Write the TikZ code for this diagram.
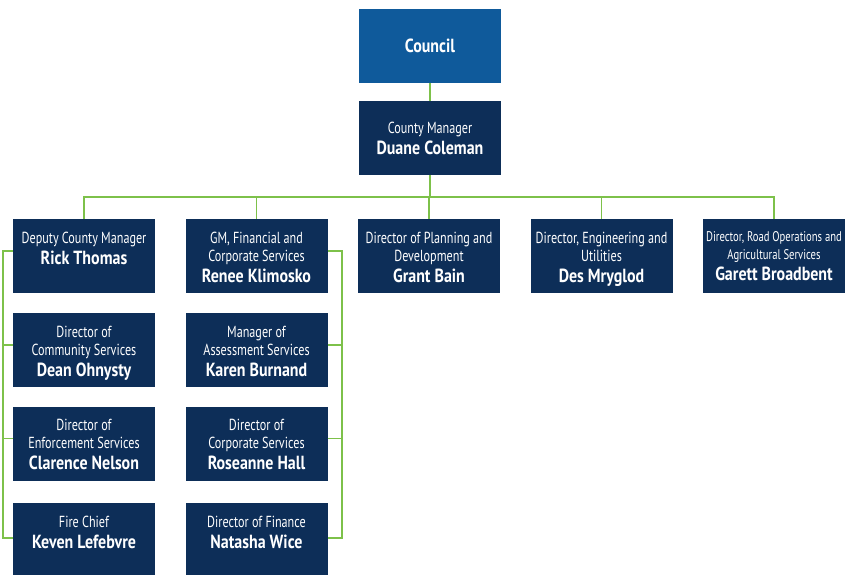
\documentclass[tikz,border=0pt]{standalone}
\usepackage{fontspec}
\setmainfont[FakeStretch=0.76,BoldFeatures={FakeStretch=0.84}]{PT Sans}
\usetikzlibrary{positioning}

\definecolor{navy}{HTML}{0D2E58}
\definecolor{councilblue}{HTML}{0F5A9B}
\definecolor{linegreen}{HTML}{7DC14A}

\newcommand{\who}[1]{{\fontsize{19}{21}\selectfont\bfseries #1\par}}
% title lines on top, name below, block fixed to the box top
\newcommand{\role}[2]{\begin{minipage}[t][74pt][t]{142pt}\centering
   \vspace*{13pt}#1\par\who{#2}\end{minipage}}
\newcommand{\headrole}[2]{\begin{minipage}{142pt}\centering
   #1\par\who{#2}\end{minipage}}

\begin{document}
\begin{tikzpicture}[x=1pt,y=-1pt,on grid,
   unit/.style={fill=navy,text=white,minimum width=142pt,minimum height=74pt,
     inner sep=0pt,font=\fontsize{16}{18}\selectfont},
   link/.style={draw=linegreen,line width=1.6pt}]
   \useasboundingbox (0,0) rectangle (856,574);
   \clip (0,0) rectangle (856,574);
   \node[unit,fill=councilblue] (council) at (430,45.5) {\fontsize{19}{21}\selectfont\bfseries Council};
   \node[unit] (manager) [below=92.5pt of council] {\headrole{County Manager}{Duane Coleman}};
   \node[unit] (planning) [below=118pt of manager,xshift=-1pt] {\role{Director of Planning and\\Development}{Grant Bain}};
   \node[unit] (gm) [left=172.5pt of planning] {\role{GM, Financial and\\Corporate Services}{Renee Klimosko}};
   \node[unit] (deputy) [left=172.5pt of gm] {\role{Deputy County Manager}{Rick Thomas}};
   \node[unit] (eng) [right=172.5pt of planning] {\role{Director, Engineering and\\Utilities}{Des Mryglod}};
   \node[unit] (road) [right=172.5pt of eng] {\role{\fontsize{14}{18}\selectfont Director, Road Operations and\\Agricultural Services}{Garett Broadbent}};
   % deputy's column
   \node[unit] (community) [below=94pt of deputy] {\role{Director of\\Community Services}{Dean Ohnysty}};
   \node[unit] (enforcement) [below=93.5pt of community] {\role{Director of\\Enforcement Services}{Clarence Nelson}};
   \node[unit] (fire) [below=96.5pt of enforcement] {\role{Fire Chief}{Keven Lefebvre}};
   % gm's column
   \node[unit] (assessment) [below=94pt of gm] {\role{Manager of\\Assessment Services}{Karen Burnand}};
   \node[unit] (corporate) [below=93.5pt of assessment] {\role{Director of\\Corporate Services}{Roseanne Hall}};
   \node[unit] (finance) [below=96.5pt of corporate] {\role{Director of Finance}{Natasha Wice}};

   \coordinate[below=22pt of manager.south] (bus);
   \draw[link] (council) -- (manager);
   \draw[link] (manager) -- (bus);
   \draw[link] (deputy.north) |- (bus) -| (road.north);
   \foreach \n in {gm,planning,eng}
     \draw[link] (\n.north) -- (\n.north |- bus);
   \draw[link] ([yshift=5pt]deputy.west) -- ++(-10pt,0) |- ([yshift=2pt]fire.west);
   \foreach \n in {community,enforcement}
     \draw[link] ([yshift=5pt]\n.west) -- ++(-10pt,0);
   \draw[link] ([yshift=5pt]gm.east) -- ++(14pt,0) |- ([yshift=2pt]finance.east);
   \foreach \n in {assessment,corporate}
     \draw[link] ([yshift=5pt]\n.east) -- ++(14pt,0);
\end{tikzpicture}
\end{document}
